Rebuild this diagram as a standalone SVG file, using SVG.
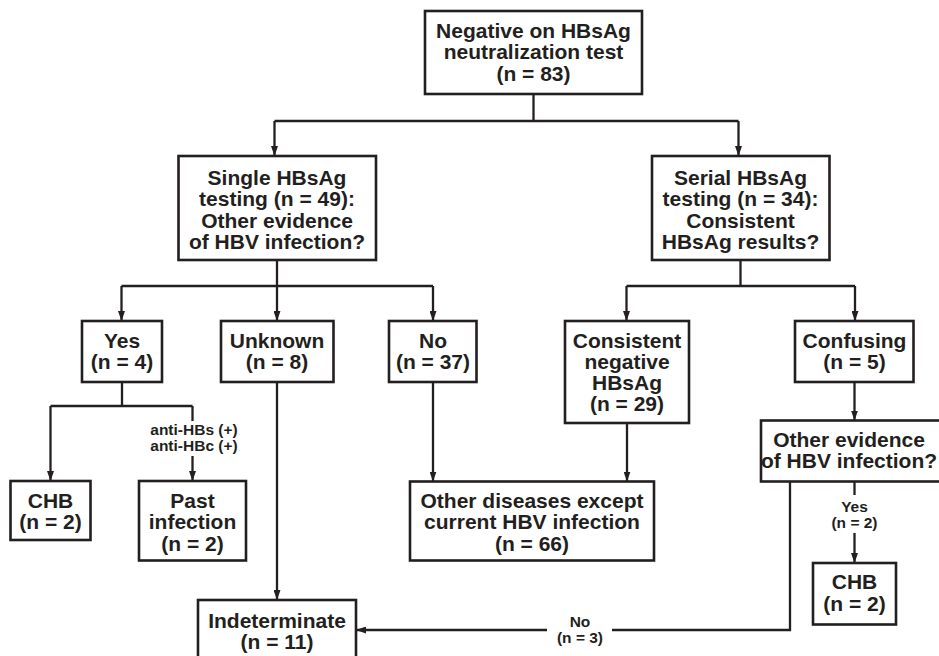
<svg xmlns="http://www.w3.org/2000/svg" width="939" height="656" viewBox="0 0 939 656">
<defs>
<style>
.box{fill:#fff;stroke:#231f20;stroke-width:2.6}
.t{font-family:"Liberation Sans",Arial,Helvetica,sans-serif;font-weight:bold;font-size:21px;fill:#231f20;text-anchor:middle}
.s{font-family:"Liberation Sans",Arial,Helvetica,sans-serif;font-weight:bold;font-size:15.5px;fill:#231f20;text-anchor:middle}
.c{fill:none;stroke:#231f20;stroke-width:2.3}
.a{marker-end:url(#arr)}
</style>
<marker id="arr" viewBox="0 0 10 7" refX="10" refY="3.5" markerWidth="10" markerHeight="7" markerUnits="userSpaceOnUse" orient="auto">
<path d="M0,0 L10,3.5 L0,7 Z" fill="#231f20"/>
</marker>
</defs>
<rect width="939" height="656" fill="#fff"/>
<g id="connectors">
<path class="c" d="M533.5,94 V121"/>
<path class="c" d="M274.5,121 H738.5"/>
<path class="c a" d="M274.5,121 V156"/>
<path class="c a" d="M738.5,121 V156"/>
<path class="c" d="M277,260 V286"/>
<path class="c" d="M121.5,286 H433"/>
<path class="c a" d="M121.5,286 V321"/>
<path class="c a" d="M277,286 V321"/>
<path class="c a" d="M433,286 V321"/>
<path class="c" d="M740.5,260 V286"/>
<path class="c" d="M626.5,286 H855"/>
<path class="c a" d="M626.5,286 V321"/>
<path class="c a" d="M855,286 V321"/>
<path class="c" d="M122,382 V406"/>
<path class="c" d="M50.5,406 H192.5"/>
<path class="c a" d="M50.5,406 V481"/>
<path class="c" d="M192.5,406 V421"/>
<path class="c a" d="M192.5,456 V481"/>
<path class="c a" d="M277,382 V600"/>
<path class="c a" d="M433,382 V481.5"/>
<path class="c a" d="M627,423 V481.5"/>
<path class="c a" d="M854.5,382 V420.5"/>
<path class="c" d="M854.5,481.5 V495"/>
<path class="c a" d="M854.5,533 V563"/>
<path class="c" d="M790,481.5 V630 H612"/>
<path class="c a" d="M547,630 H356"/>
<text class="s" x="194" y="434.5">anti-HBs (+)</text>
<text class="s" x="194" y="450.5">anti-HBc (+)</text>
<text class="s" x="854.5" y="512">Yes</text>
<text class="s" x="854.5" y="528">(n = 2)</text>
<text class="s" x="580" y="627">No</text>
<text class="s" x="580" y="643">(n = 3)</text>
</g>
<g id="root">
<rect class="box" x="425" y="11" width="217" height="83"/>
<text class="t" x="533.5" y="37.5">Negative on HBsAg</text>
<text class="t" x="533.5" y="59">neutralization test</text>
<text class="t" x="533.5" y="80.5">(n = 83)</text>
</g>
<g id="single">
<rect class="box" x="178.5" y="156" width="197.5" height="104"/>
<text class="t" x="277" y="184.5">Single HBsAg</text>
<text class="t" x="277" y="206">testing (n = 49):</text>
<text class="t" x="277" y="227.5">Other evidence</text>
<text class="t" x="277" y="249">of HBV infection?</text>
</g>
<g id="serial">
<rect class="box" x="652" y="156" width="177.5" height="104"/>
<text class="t" x="740.5" y="184.5">Serial HBsAg</text>
<text class="t" x="740.5" y="206">testing (n = 34):</text>
<text class="t" x="740.5" y="227.5">Consistent</text>
<text class="t" x="740.5" y="249">HBsAg results?</text>
</g>
<g id="yes">
<rect class="box" x="82" y="321" width="80" height="61"/>
<text class="t" x="122" y="347.5">Yes</text>
<text class="t" x="122" y="369">(n = 4)</text>
</g>
<g id="unknown">
<rect class="box" x="221" y="321" width="112.5" height="61"/>
<text class="t" x="277" y="347.5">Unknown</text>
<text class="t" x="277" y="369">(n = 8)</text>
</g>
<g id="no">
<rect class="box" x="389" y="321" width="87.5" height="61"/>
<text class="t" x="433" y="347.5">No</text>
<text class="t" x="433" y="369">(n = 37)</text>
</g>
<g id="consistent">
<rect class="box" x="565" y="321" width="124" height="102"/>
<text class="t" x="627" y="347.5">Consistent</text>
<text class="t" x="627" y="368.5">negative</text>
<text class="t" x="627" y="389.5">HBsAg</text>
<text class="t" x="627" y="410.5">(n = 29)</text>
</g>
<g id="confusing">
<rect class="box" x="795" y="321" width="118.5" height="61"/>
<text class="t" x="854.5" y="347.5">Confusing</text>
<text class="t" x="854.5" y="369">(n = 5)</text>
</g>
<g id="chb1">
<rect class="box" x="10.5" y="481" width="80" height="59"/>
<text class="t" x="50.5" y="507.5">CHB</text>
<text class="t" x="50.5" y="529">(n = 2)</text>
</g>
<g id="past">
<rect class="box" x="139" y="481" width="107" height="79.5"/>
<text class="t" x="192.5" y="507.5">Past</text>
<text class="t" x="192.5" y="529">infection</text>
<text class="t" x="192.5" y="550.5">(n = 2)</text>
</g>
<g id="other-diseases">
<rect class="box" x="410" y="481.5" width="244" height="79"/>
<text class="t" x="532" y="507.5">Other diseases except</text>
<text class="t" x="532" y="529">current HBV infection</text>
<text class="t" x="532" y="550.5">(n = 66)</text>
</g>
<g id="other-evidence">
<rect class="box" x="761" y="420.5" width="190" height="61"/>
<text class="t" x="849" y="446.5">Other evidence</text>
<text class="t" x="849" y="467.5">of HBV infection?</text>
</g>
<g id="chb2">
<rect class="box" x="813" y="563" width="83" height="61.5"/>
<text class="t" x="854.5" y="589">CHB</text>
<text class="t" x="854.5" y="610.5">(n = 2)</text>
</g>
<g id="indeterminate">
<rect class="box" x="198" y="600" width="158" height="70"/>
<text class="t" x="277" y="627.5">Indeterminate</text>
<text class="t" x="277" y="648.5">(n = 11)</text>
</g>
</svg>
